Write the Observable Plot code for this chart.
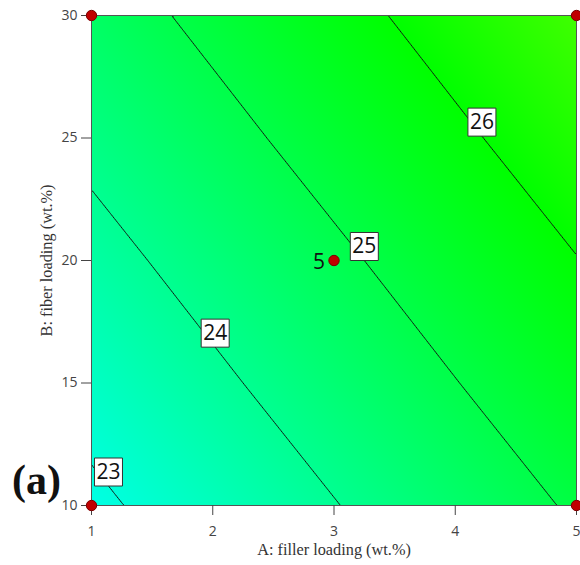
<!DOCTYPE html>
<html>
<head>
<meta charset="utf-8">
<style>
  html, body { margin: 0; padding: 0; background: #fff; }
  #chart svg { display: block; }
  #chart svg g[aria-label="x-axis tick label"],
  #chart svg g[aria-label="y-axis tick label"] { font-size: 14px !important; font-family: 'Open Sans', sans-serif !important; }
</style>
<script src="https://cdn.jsdelivr.net/npm/d3@7"></script>
<script src="https://cdn.jsdelivr.net/npm/@observablehq/plot@0.6"></script>
</head>
<body>
<div id="chart"></div>
<script>
// ---- data ----
const fillerLoading = [1, 2, 3, 4, 5];          // A (wt.%)
const fiberLoading = [10, 15, 20, 25, 30];      // B (wt.%)
// response at each (B row, A column)
const responseRow10 = [22.85, 23.41, 23.97, 24.53, 25.09];
const responseRow15 = [23.30, 23.86, 24.42, 24.98, 25.54];
const responseRow20 = [23.74, 24.30, 24.86, 25.42, 25.98];
const responseRow25 = [24.19, 24.75, 25.31, 25.87, 26.43];
const responseRow30 = [24.63, 25.19, 25.75, 26.31, 26.87];
const contourLevels = [23, 24, 25, 26];
const labelFiller = [1.14, 2.02, 3.25, 4.22];   // where each contour label sits along A
const designFiller = [1, 1, 5, 5, 3];
const designFiber = [10, 30, 10, 30, 20];
const designReplicates = [1, 1, 1, 1, 5];
const xTicks = [1, 2, 3, 4, 5];
const yTicks = [10, 15, 20, 25, 30];
const xTitle = "A: filler loading (wt.%)";
const yTitle = "B: fiber loading (wt.%)";
const panelTag = "(a)";

// ---- build tables ----
const responseRows = [responseRow10, responseRow15, responseRow20, responseRow25, responseRow30];
const grid = fiberLoading.flatMap((b, i) =>
  fillerLoading.map((a, j) => ({A: a, B: b, v: responseRows[i][j]})));

function bilinear(a, b) {
  const n = fillerLoading.length, m = fiberLoading.length;
  let j = d3.bisectRight(fillerLoading, a) - 1; j = Math.max(0, Math.min(n - 2, j));
  let i = d3.bisectRight(fiberLoading, b) - 1; i = Math.max(0, Math.min(m - 2, i));
  const tx = (a - fillerLoading[j]) / (fillerLoading[j + 1] - fillerLoading[j]);
  const ty = (b - fiberLoading[i]) / (fiberLoading[i + 1] - fiberLoading[i]);
  const v00 = responseRows[i][j], v01 = responseRows[i][j + 1];
  const v10 = responseRows[i + 1][j], v11 = responseRows[i + 1][j + 1];
  return (v00 * (1 - tx) + v01 * tx) * (1 - ty) + (v10 * (1 - tx) + v11 * tx) * ty;
}
function fiberAt(level, a) {
  let lo = fiberLoading[0], hi = fiberLoading[fiberLoading.length - 1];
  for (let k = 0; k < 60; k++) {
    const mid = (lo + hi) / 2;
    if (bilinear(a, mid) < level) lo = mid; else hi = mid;
  }
  return (lo + hi) / 2;
}
const labels = contourLevels.map((lv, k) => ({A: labelFiller[k], B: fiberAt(lv, labelFiller[k]), text: String(lv)}));
const design = designFiller.map((a, k) => ({A: a, B: designFiber[k], n: designReplicates[k]}));

const chart = Plot.plot({
  width: 580,
  height: 565,
  marginLeft: 91,
  marginRight: 4,
  marginTop: 15,
  marginBottom: 60,
  style: {fontFamily: "'Open Sans', sans-serif", fontSize: "14px", color: "#333", background: "white", overflow: "visible"},
  x: {domain: [1, 5]},
  y: {domain: [10, 30]},
  color: {
    type: "linear",
    domain: d3.extent(grid, d => d.v),
    interpolate: t => d3.hsl(174 - 69 * t, 1, 0.5).toString()
  },
  marks: [
    Plot.raster(grid, {x: "A", y: "B", fill: "v", interpolate: "barycentric"}),
    Plot.contour(grid, {x: "A", y: "B", value: "v", thresholds: contourLevels, interpolate: "barycentric",
      fill: "none", stroke: "#111", strokeWidth: 1, clip: "frame"}),
    Plot.frame({stroke: "#555"}),
    Plot.axisX({ticks: xTicks, tickFormat: d => String(d), tickSize: 10, tickPadding: 11, label: null, color: "#444"}),
    Plot.axisY({ticks: yTicks, tickFormat: d => String(d), tickSize: 10, tickPadding: 4, label: null, color: "#444"}),
    Plot.dot(labels, {x: "A", y: "B", dy: -14, symbol: "square", r: 15.8, fill: "white", stroke: "#333", strokeWidth: 1}),
    Plot.text(labels, {x: "A", y: "B", dy: -14, text: "text", fontSize: 21, fill: "#111"}),
    Plot.dot(design, {x: "A", y: "B", r: 5.2, fill: "#c00000", stroke: "#7a0000", strokeWidth: 1}),
    Plot.text(design.filter(d => d.n > 1), {x: "A", y: "B", text: d => String(d.n), dx: -15, dy: 2, fontSize: 21, fill: "#111"}),
    Plot.text([xTitle], {text: d => d, frameAnchor: "bottom", lineAnchor: "middle", dy: 44,
      fontFamily: "'Liberation Serif', serif", fontSize: 16.3, fill: "#333"}),
    Plot.text([yTitle], {text: d => d, frameAnchor: "left", rotate: -90, lineAnchor: "middle", textAnchor: "middle", dx: -45,
      fontFamily: "'Liberation Serif', serif", fontSize: 16.3, fill: "#333"}),
    Plot.text([panelTag], {text: d => d, frameAnchor: "bottom-left", textAnchor: "middle", lineAnchor: "bottom", dx: -55, dy: -12,
      fontFamily: "'Liberation Serif', serif", fontSize: 42, fontWeight: "bold", fill: "#111"})
  ]
});
document.getElementById("chart").append(chart);
</script>
</body>
</html>
